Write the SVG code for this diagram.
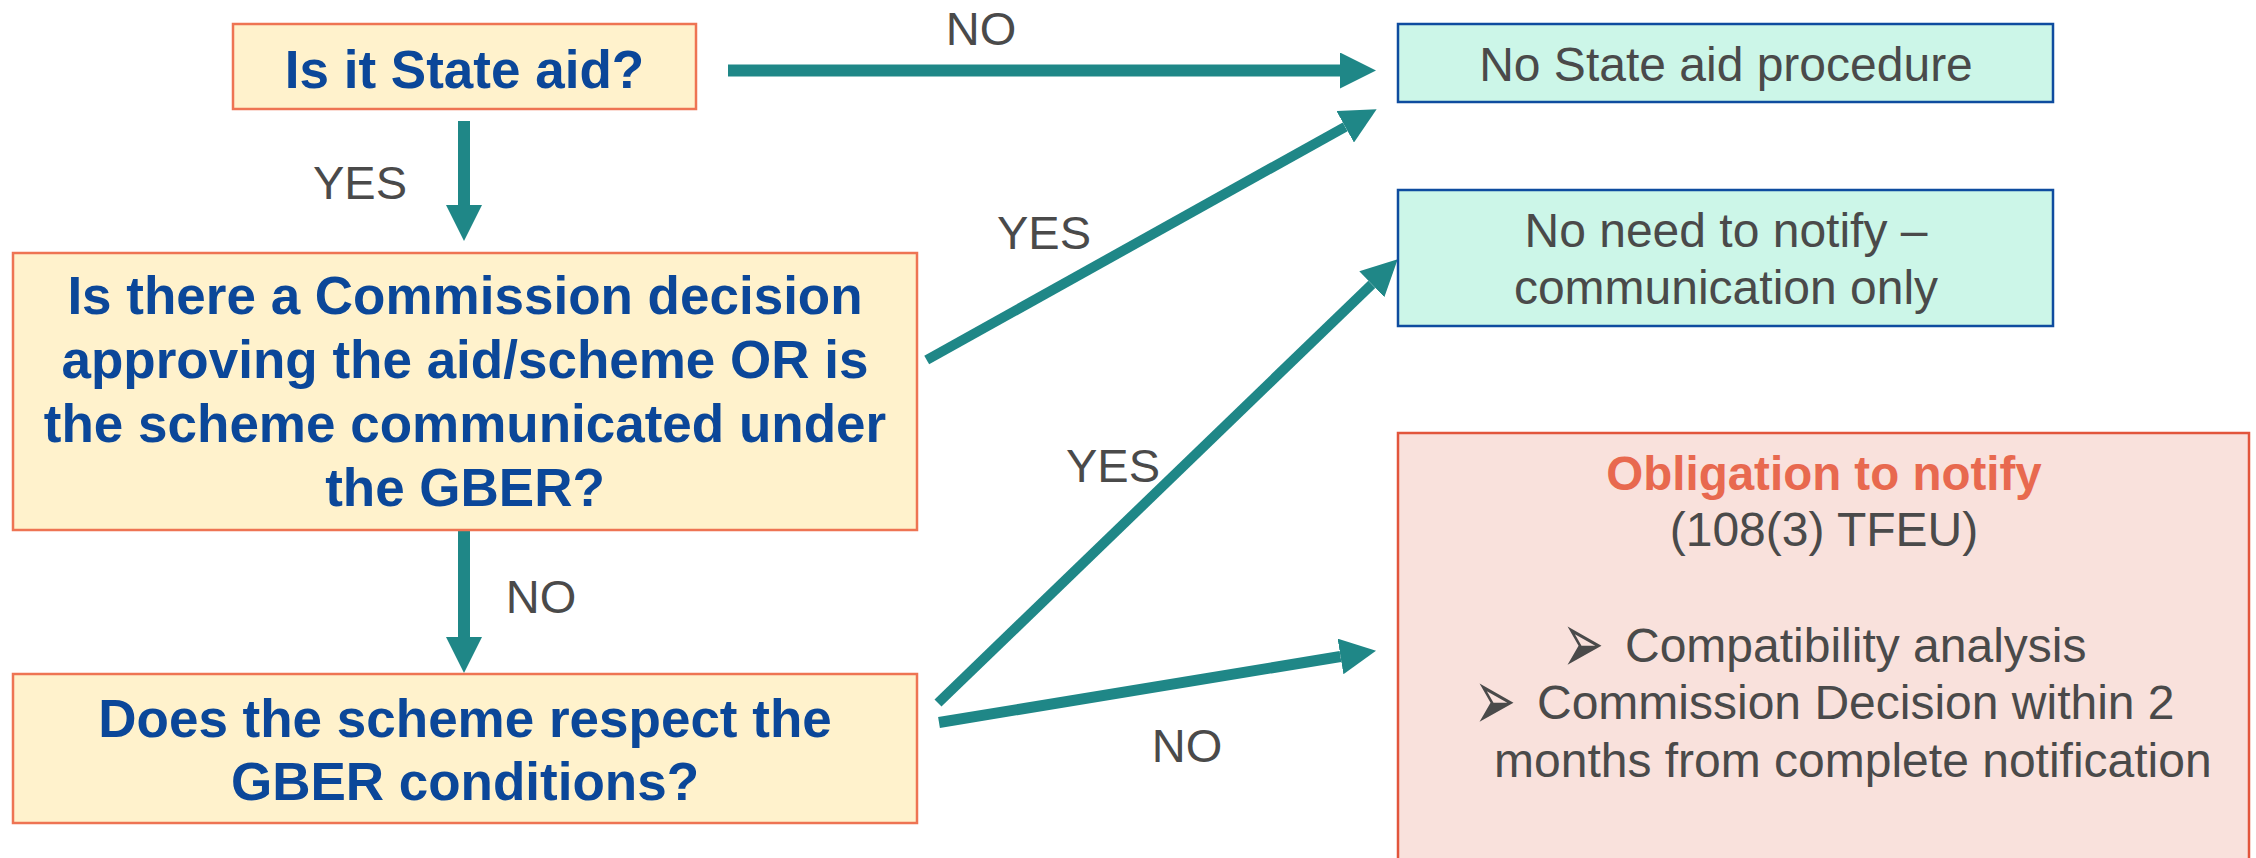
<svg xmlns="http://www.w3.org/2000/svg" width="2256" height="858" viewBox="0 0 2256 858">
  <defs>
    <style>
      .q { fill: #FFF2CC; stroke: #EE7453; stroke-width: 2.5; }
      .r { fill: #CCF6E8; stroke: #0E4C9F; stroke-width: 2.5; }
      .o { fill: #F9E1DC; stroke: #E2553C; stroke-width: 2.5; }
      .qt { font-family: "Liberation Sans", Arial, sans-serif; font-weight: bold; font-size: 53px; fill: #0B4799; text-anchor: middle; }
      .rt { font-family: "Liberation Sans", Arial, sans-serif; font-size: 48px; fill: #4A4A4A; text-anchor: middle; }
      .lbl { font-family: "Liberation Sans", Arial, sans-serif; font-size: 47px; fill: #4A4A4A; text-anchor: middle; }
      .ob { font-family: "Liberation Sans", Arial, sans-serif; font-weight: bold; font-size: 47.5px; fill: #E8694F; text-anchor: middle; }
      .bt { font-family: "Liberation Sans", Arial, sans-serif; font-size: 48px; fill: #4A4A4A; }
      .bu { font-family: "DejaVu Sans", sans-serif; font-size: 50px; fill: #4A4A4A; }
      .conn { stroke: #1F8787; fill: none; stroke-linecap: butt; }
    </style>
    <marker id="ah" markerUnits="userSpaceOnUse" markerWidth="36" markerHeight="36" refX="0" refY="18" orient="auto" viewBox="0 0 36 36">
      <path d="M0,0 L36,18 L0,36 z" fill="#1F8787"/>
    </marker>
  </defs>

  <g id="connectors">
    <line class="conn" x1="728" y1="70.5" x2="1340" y2="70.5" stroke-width="12" marker-end="url(#ah)"/>
    <line class="conn" x1="464" y1="121" x2="464" y2="205" stroke-width="12" marker-end="url(#ah)"/>
    <line class="conn" x1="464" y1="531" x2="464" y2="637" stroke-width="12" marker-end="url(#ah)"/>
    <line class="conn" x1="926.7" y1="360" x2="1345.2" y2="126.8" stroke-width="10" marker-end="url(#ah)"/>
    <line class="conn" x1="938" y1="703" x2="1371.8" y2="284.3" stroke-width="10" marker-end="url(#ah)"/>
    <line class="conn" x1="939" y1="722.5" x2="1340.5" y2="656.5" stroke-width="11" marker-end="url(#ah)"/>
  </g>

  <g id="labels">
    <text class="lbl" x="981" y="45">NO</text>
    <text class="lbl" x="360" y="199">YES</text>
    <text class="lbl" x="1044" y="249">YES</text>
    <text class="lbl" x="1113" y="482">YES</text>
    <text class="lbl" x="541" y="613">NO</text>
    <text class="lbl" x="1187" y="762">NO</text>
  </g>

  <g id="q1">
    <rect class="q" x="233" y="24" width="463" height="85"/>
    <text class="qt" x="464.5" y="88">Is it State aid?</text>
  </g>

  <g id="q2">
    <rect class="q" x="13" y="253" width="904" height="277"/>
    <text class="qt" x="465" y="314">Is there a Commission decision</text>
    <text class="qt" x="465" y="378">approving the aid/scheme OR is</text>
    <text class="qt" x="465" y="442">the scheme communicated under</text>
    <text class="qt" x="465" y="506">the GBER?</text>
  </g>

  <g id="q3">
    <rect class="q" x="13" y="674" width="904" height="149"/>
    <text class="qt" x="465" y="737">Does the scheme respect the</text>
    <text class="qt" x="465" y="800">GBER conditions?</text>
  </g>

  <g id="r1">
    <rect class="r" x="1398" y="24" width="655" height="78"/>
    <text class="rt" x="1726" y="81">No State aid procedure</text>
  </g>

  <g id="r2">
    <rect class="r" x="1398" y="190" width="655" height="136"/>
    <text class="rt" x="1726" y="247">No need to notify –</text>
    <text class="rt" x="1726" y="304">communication only</text>
  </g>

  <g id="r3">
    <rect class="o" x="1398" y="433" width="851" height="440"/>
    <text class="ob" x="1824" y="490">Obligation to notify</text>
    <text class="rt" x="1824" y="546">(108(3) TFEU)</text>
    <text class="bu" transform="translate(1562,673) scale(1,1.74)">➢</text>
    <text class="bt" x="1625" y="662">Compatibility analysis</text>
    <text class="bu" transform="translate(1474,730) scale(1,1.74)">➢</text>
    <text class="bt" x="1537" y="719">Commission Decision within 2</text>
    <text class="bt" x="1494" y="777">months from complete notification</text>
  </g>
</svg>
